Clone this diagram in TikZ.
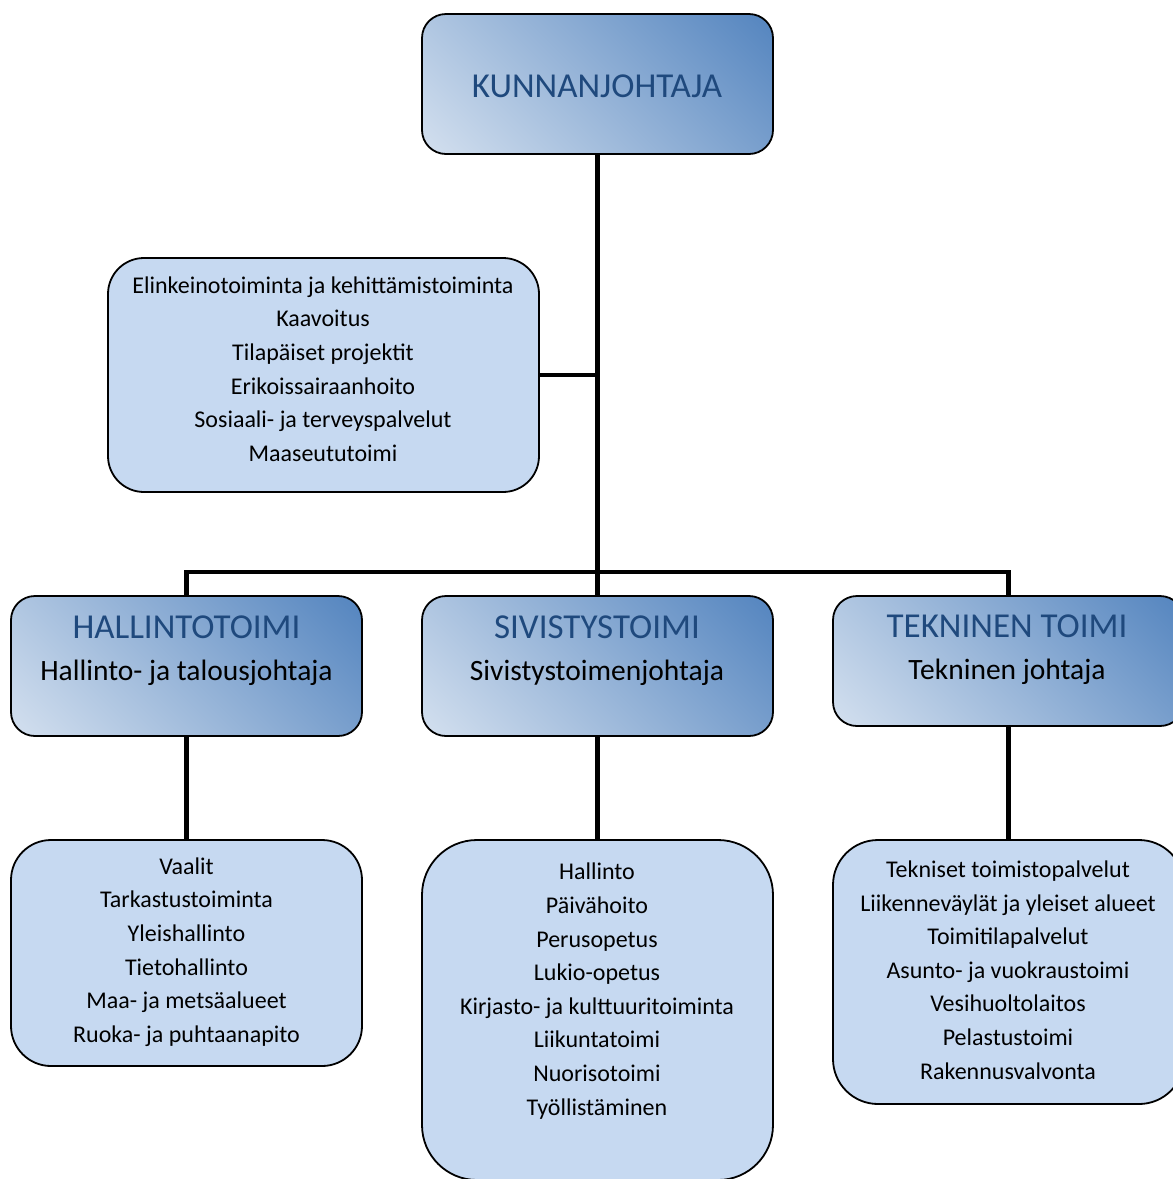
\documentclass[tikz,border=0pt]{standalone}
\usepackage{fontspec}
\setmainfont{Carlito}
\definecolor{gdark}{HTML}{4F81BD}
\definecolor{glight}{HTML}{DCE6F2}
\definecolor{flat}{HTML}{C6D9F1}
\definecolor{headblue}{HTML}{1F497D}
\pgfdeclareverticalshading{diaggrad}{100bp}{color(0bp)=(glight); color(10bp)=(glight); color(88bp)=(gdark); color(100bp)=(gdark)}
\tikzset{
  gradbox/.style={draw=black, line width=1.8pt, rounded corners=24pt, inner sep=0pt,
    shade, shading=diaggrad, shading angle=-45},
  flatbox/.style={draw=black, line width=1.8pt, fill=flat, inner sep=0pt},
  conn/.style={line width=4.6pt, black},
  listtxt/.style={align=center, font=\fontsize{24}{33.6}\selectfont, inner sep=0pt},
  headtxt/.style={text=headblue, font=\fontsize{35}{40}\selectfont, inner sep=0pt},
  subtxt/.style={font=\fontsize{29.5}{34}\selectfont, inner sep=0pt},
}
\begin{document}
\begin{tikzpicture}[x=1pt,y=-1pt]
\clip (0,0) rectangle (1173,1179);
\fill[white] (0,0) rectangle (1173,1179);
% boxes
\node[gradbox, minimum width=351pt, minimum height=140pt] (top) at (597.5,84) {};
\node[flatbox, rounded corners=36pt, minimum width=431pt, minimum height=234pt] (info) at (323.5,375) {};
\node[gradbox, minimum width=351pt, minimum height=140pt] (hall) at (186.5,666) {};
\node[gradbox, minimum width=351pt, minimum height=140pt] (siv) at (597.5,666) {};
\node[gradbox, minimum width=351pt, minimum height=130pt] (tek) at (1008.5,661) {};
\node[flatbox, rounded corners=40pt, minimum width=351pt, minimum height=226pt] (hlist) at (186.5,953) {};
\node[flatbox, rounded corners=55pt, minimum width=351pt, minimum height=340pt] (slist) at (597.5,1010) {};
\node[flatbox, rounded corners=45pt, minimum width=351pt, minimum height=264pt] (tlist) at (1008.5,972) {};
% connectors
\draw[conn] (top.south) -- (top.south |- 0,572);
\draw[conn] (info.east) -- (info.east -| top.south);
\draw[conn] (hall.north) -- (hall.north |- 0,572) -- (tek.north |- 0,572) -- (tek.north);
\draw[conn] (siv.north) -- (siv.north |- 0,572);
\draw[conn] (hall.south) -- (hlist.north);
\draw[conn] (siv.south) -- (slist.north);
\draw[conn] (tek.south) -- (tlist.north);
% texts
\node[headtxt] (ttop) at (597,86) {KUNNANJOHTAJA};
\node[headtxt] (thall) at (186.5,627) {HALLINTOTOIMI};
\node[subtxt] (shall) at (186.5,673) {Hallinto- ja talousjohtaja};
\node[headtxt] (tsiv) at (597,627) {SIVISTYSTOIMI};
\node[subtxt] (ssiv) at (597,673) {Sivistystoimenjohtaja};
\node[headtxt] (ttek) at (1007,626) {TEKNINEN TOIMI};
\node[subtxt] (stek) at (1007,672) {Tekninen johtaja};
\node[listtxt] (linfo) at (323,369) {Elinkeinotoiminta ja kehittämistoiminta\\Kaavoitus\\Tilapäiset projektit\\Erikoissairaanhoito\\Sosiaali- ja terveyspalvelut\\Maaseututoimi};
\node[listtxt] (lhall) at (186.5,952) {Vaalit\\Tarkastustoiminta\\Yleishallinto\\Tietohallinto\\Maa- ja metsäalueet\\Ruoka- ja puhtaanapito};
\node[listtxt] (lsiv) at (597,991) {Hallinto\\Päivähoito\\Perusopetus\\Lukio-opetus\\Kirjasto- ja kulttuuritoiminta\\Liikuntatoimi\\Nuorisotoimi\\Työllistäminen};
\node[listtxt] (ltek) at (1008,970) {Tekniset toimistopalvelut\\Liikenneväylät ja yleiset alueet\\Toimitilapalvelut\\Asunto- ja vuokraustoimi\\Vesihuoltolaitos\\Pelastustoimi\\Rakennusvalvonta};
\end{tikzpicture}
\end{document}
